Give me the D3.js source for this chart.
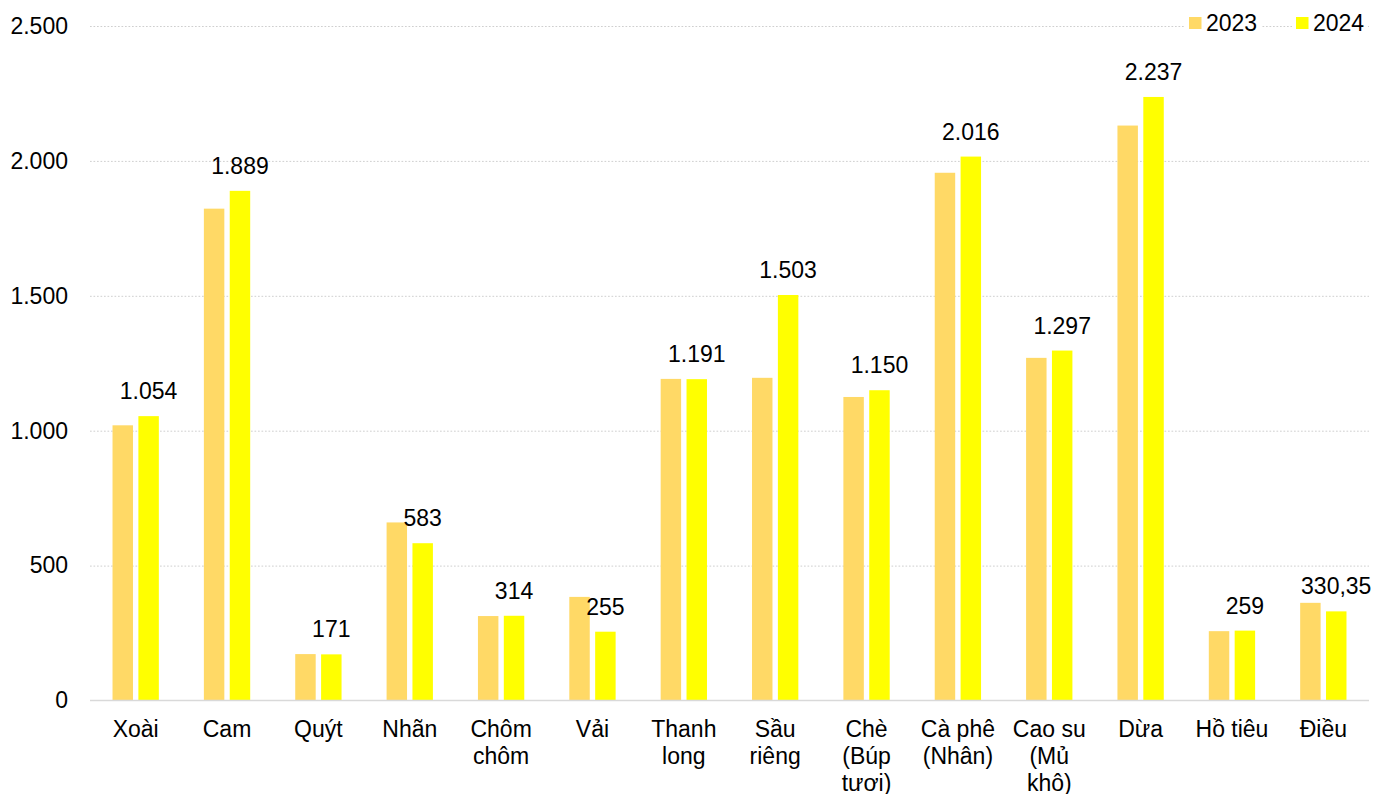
<!DOCTYPE html>
<html>
<head>
<meta charset="utf-8">
<script src="https://cdn.jsdelivr.net/npm/d3@7"></script>
<style>
  html, body { margin: 0; padding: 0; background: #fff; }
  svg { display: block; font-family: "Liberation Sans", Arial, sans-serif; }
</style>
</head>
<body>
<svg id="chart" width="1374" height="794"></svg>
<script>
// ---- Data ----
const categories = ["Xoài", "Cam", "Quýt", "Nhãn", "Chôm\nchôm", "Vải", "Thanh\nlong", "Sầu\nriêng",
  "Chè\n(Búp\ntươi)", "Cà phê\n(Nhân)", "Cao su\n(Mủ\nkhô)", "Dừa", "Hồ tiêu", "Điều"];
const seriesNames = ["2023", "2024"];
const values2023 = [1020, 1823, 172, 660, 313, 384, 1192, 1196, 1125, 1956, 1270, 2131, 257, 362];
const values2024 = [1054, 1889, 171, 583, 314, 255, 1191, 1503, 1150, 2016, 1297, 2237, 259, 330.35];
const yTicks = [0, 500, 1000, 1500, 2000, 2500];
const colors = ["#FFD966", "#FFFF00"];

// ---- Layout ----
const svg = d3.select("#chart");
const mLeft = 90, mRight = 1369, mTop = 26, mBottom = 700.5;
const fontSize = 23;

const vn = d3.formatLocale({decimal: ",", thousands: ".", grouping: [3], currency: ["", ""]});
const fmt = vn.format(",");

const y = d3.scaleLinear().domain([0, 2500]).range([mBottom, mTop]);
const x0 = d3.scaleBand().domain(categories).range([mLeft, mRight]).paddingInner(0.493).paddingOuter(0.2465);
const x1 = d3.scaleBand().domain(seriesNames).range([0, x0.bandwidth()]).paddingInner(0.209).paddingOuter(0);

// gridlines + y labels
const yAxis = svg.append("g")
  .attr("transform", `translate(${mLeft},0)`)
  .call(d3.axisLeft(y).tickValues(yTicks).tickSize(-(mRight - mLeft)).tickFormat(fmt).tickPadding(22));
yAxis.select(".domain").remove();
yAxis.selectAll(".tick line")
  .attr("stroke", "#cfcfcf")
  .attr("stroke-width", 1)
  .attr("stroke-dasharray", d => d === 0 ? null : "1.7,1.8")
  .attr("stroke-opacity", d => d === 0 ? 0 : 1);
yAxis.selectAll(".tick text")
  .attr("font-size", fontSize)
  .attr("font-family", "Liberation Sans, Arial, sans-serif")
  .attr("fill", "#000");

// bars
const data = categories.map((c, i) => ({cat: c, vals: [values2023[i], values2024[i]]}));
const groups = svg.append("g").selectAll("g").data(data).join("g")
  .attr("transform", d => `translate(${x0(d.cat)},0)`);
groups.selectAll("rect")
  .data(d => d.vals.map((v, j) => ({name: seriesNames[j], v, j})))
  .join("rect")
  .attr("x", d => x1(d.name))
  .attr("width", x1.bandwidth())
  .attr("y", d => y(d.v))
  .attr("height", d => y(0) - y(d.v))
  .attr("fill", d => colors[d.j]);

// zero axis line
svg.append("line")
  .attr("x1", mLeft).attr("x2", mRight)
  .attr("y1", y(0)).attr("y2", y(0))
  .attr("stroke", "#d9d9d9").attr("stroke-width", 1.5);

// value labels (2024)
groups.append("text")
  .attr("x", x1("2024") + x1.bandwidth() / 2)
  .attr("y", d => y(d.vals[1]) - 17)
  .attr("text-anchor", "middle")
  .attr("font-size", fontSize)
  .attr("fill", "#000")
  .text(d => fmt(d.vals[1]));

// category labels
const xAxis = svg.append("g")
  .attr("transform", `translate(0,${mBottom})`)
  .call(d3.axisBottom(x0).tickSize(0).tickFormat(""));
xAxis.select(".domain").remove();
xAxis.selectAll(".tick").each(function(d) {
  const t = d3.select(this).append("text")
    .attr("text-anchor", "middle")
    .attr("font-size", fontSize)
    .attr("fill", "#000");
  d.split("\n").forEach((line, k) => {
    t.append("tspan").attr("x", 0).attr("y", 36 + k * 27).text(line);
  });
});

// legend
const legend = svg.append("g");
const legItems = [{name: "2023", x: 1189}, {name: "2024", x: 1296}];
legItems.forEach((it, j) => {
  const g = legend.append("g").attr("transform", `translate(${it.x},0)`);
  g.append("rect").attr("x", -4).attr("y", 10).attr("width", 76).attr("height", 26).attr("fill", "#fff");
  g.append("rect").attr("x", 0).attr("y", 17).attr("width", 12.5).attr("height", 12).attr("fill", colors[j]);
  g.append("text").attr("x", 17).attr("y", 30.5).attr("font-size", fontSize).attr("fill", "#000").text(it.name);
});
</script>
</body>
</html>
